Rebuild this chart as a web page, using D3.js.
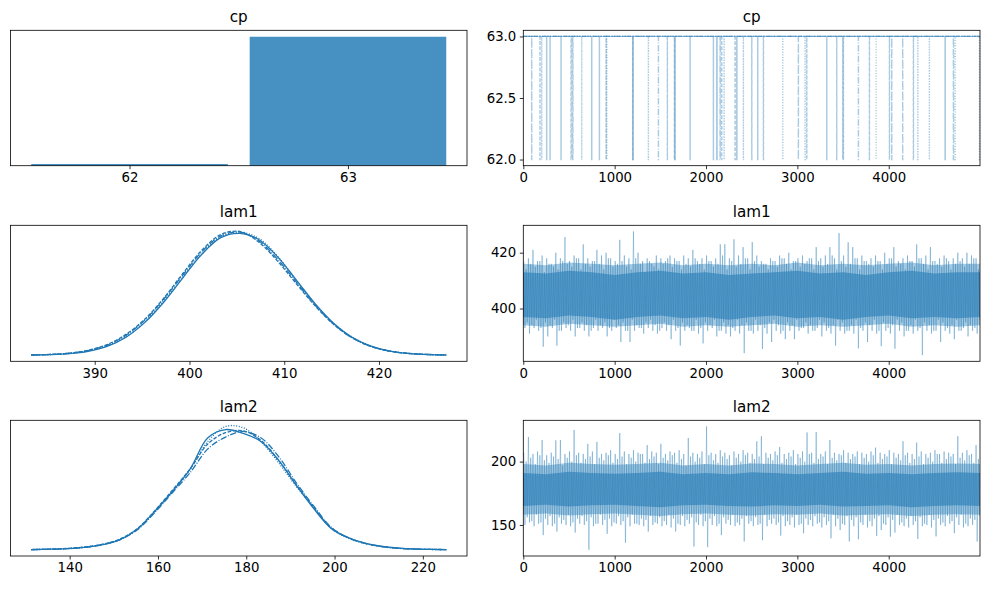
<!DOCTYPE html>
<html><head><meta charset="utf-8">
<script src="https://cdn.jsdelivr.net/npm/d3@7"></script>
<style>
body{margin:0;background:#fff}
svg{display:block}
text{font-family:"DejaVu Sans",sans-serif;fill:#000}
</style>
</head><body>
<svg id="chart" width="989" height="590"></svg>
<script>
// ---------------- DATA ----------------
const chainStyles = ["solid", "dashed", "dashdot", "dotted"];

// cp: posterior share of each value
const cpValues = [62, 63];
const cpProb = [0.013, 0.987];
// cp trace: draws (start, length) where each chain sits at 62 (otherwise 63)
const cpDropsChain0 = [[255,2],[292,2],[412,2],[748,2],[832,2],[1200,3],[1660,3],[1825,2],[2080,2],[2116,6],[2335,4],[2565,2],[3321,2],[4616,4]];
const cpDropsChain1 = [[182,2],[522,5],[905,3],[1197,2],[1576,2],[1653,3],[2171,2],[2317,3],[2627,3],[3102,2],[3496,3],[3788,2],[4007,2],[4269,3]];
const cpDropsChain2 = [[91,2],[540,4],[1478,2],[2153,4],[2500,2],[3010,2],[3430,2],[3667,2],[4032,2],[4152,2],[4707,4]];
const cpDropsChain3 = [[201,2],[639,2],[912,3],[1368,2],[2197,2],[2408,2],[2839,2],[3083,3],[3503,3],[3861,2],[4317,3],[4444,2],[4725,5],[4992,2]];
const cpTraceYTicks = [62.0, 62.5, 63.0];

// lam1 density (per chain) on a grid
const lam1Grid = [383.3,385.3,387.3,389.3,391.3,393.3,395.3,397.3,399.3,401.3,403.3,405.3,407.3,409.3,411.3,413.3,415.3,417.3,419.3,421.3,423.3,425.3,427.1];
const lam1Kde0 = [0.001,0.004,0.012,0.031,0.07,0.145,0.265,0.43,0.625,0.815,0.95,0.985,0.935,0.795,0.605,0.412,0.252,0.138,0.068,0.03,0.012,0.004,0.001];
const lam1Kde1 = [0.002,0.006,0.016,0.04,0.085,0.168,0.292,0.462,0.66,0.848,0.975,1.0,0.915,0.76,0.575,0.395,0.243,0.134,0.066,0.03,0.013,0.005,0.002];
const lam1Kde2 = [0.002,0.005,0.015,0.037,0.08,0.16,0.285,0.455,0.648,0.835,0.965,0.995,0.925,0.775,0.588,0.4,0.245,0.134,0.067,0.03,0.012,0.005,0.002];
const lam1Kde3 = [0.001,0.005,0.013,0.034,0.075,0.15,0.272,0.44,0.632,0.82,0.955,0.995,0.945,0.8,0.6,0.41,0.25,0.14,0.07,0.031,0.013,0.004,0.001];
const lam1KdeTicks = [390, 400, 410, 420];

// lam2 density (per chain) on a grid
const lam2Grid = [131.3,135.3,139.3,143.3,147.3,151.3,155.3,159.3,163.3,167.3,171.3,175.3,179.3,183.3,187.3,191.3,195.3,199.3,203.3,207.3,211.3,215.3,219.3,223.3,225.3];
const lam2Kde0 = [0.002,0.005,0.01,0.02,0.04,0.08,0.165,0.31,0.47,0.65,0.9,0.965,0.935,0.87,0.72,0.52,0.33,0.17,0.095,0.05,0.025,0.012,0.006,0.003,0.002];
const lam2Kde1 = [0.002,0.005,0.011,0.022,0.043,0.085,0.17,0.315,0.48,0.65,0.85,0.94,0.955,0.88,0.72,0.525,0.34,0.175,0.095,0.05,0.024,0.011,0.005,0.003,0.002];
const lam2Kde2 = [0.002,0.004,0.009,0.019,0.042,0.08,0.16,0.3,0.46,0.62,0.81,0.905,0.95,0.9,0.75,0.54,0.35,0.18,0.093,0.048,0.023,0.01,0.005,0.002,0.001];
const lam2Kde3 = [0.002,0.005,0.01,0.021,0.042,0.083,0.165,0.305,0.47,0.645,0.87,0.99,0.98,0.87,0.7,0.51,0.34,0.17,0.09,0.047,0.022,0.01,0.005,0.002,0.001];
const lam2KdeTicks = [140, 160, 180, 200, 220];

// trace: per block of 50 draws, highest / lowest sampled value in its first (A) and second (B) half
const blockSize = 50;
const lam1HiA = [417,418,421,417,419,418,416,420,418,425.6,417,419,418,423,418,417,421,419,420,418,417,424.6,419,418,427.6,420,417,418,416,419,418,417,419,418,417,419,418,421,417,418,419,417,418,423,423,418,424.8,419,422,418,423.8,419,417,416,418,417,419,418,420,417,418,419,417,418,422,418,419,422,418,427,419,423.7,422,418,419,417,418,419,417,420,418,422,417,418,419,417,423,418,419,422,417,418,419,417,418,420,418,420,419,418];
const lam1LoA = [393,391,393,392,386.3,390,393,386.7,392,393,392,390,393,392,390,393,392,393,390,392,393,388,392,388,392,393,391,393,392,391,393,392,389,392,386.7,392,393,392,391,387.5,392,393,390,392,391,390,392,391,384,392,391,392,385.5,391,388,392,391,389,392,389,392,393,391,392,393,390,392,391,386.7,392,391,392,391,385.7,392,388,392,391,386.5,392,391,385.6,392,390,392,391,392,383.3,392,391,392,388,392,391,389,392,393,390,392,391];
const lam1HiB = [414,416,415,417,413,416,415,414,417,416,415,418,414,416,415,417,416,414,418,415,416,417,415,414,418,416,413,417,415,414,416,418,415,417,414,416,415,418,416,414,417,415,416,419,414,417,415,416,418,414,417,415,416,414,417,415,418,416,414,417,415,416,418,414,417,415,416,419,414,417,415,416,418,414,417,416,415,417,414,416,418,415,416,414,417,415,418,416,414,417,416,415,418,414,416,417,415,416,418,414];
const lam1LoB = [395,394,396,393,395,394,396,392,395,394,396,393,395,394,392,396,394,395,393,396,394,395,392,396,394,393,395,396,394,392,395,394,396,393,395,394,392,396,393,395,394,396,392,395,394,393,396,394,395,392,396,394,393,395,396,394,392,395,394,396,393,395,394,392,396,395,393,394,396,395,392,394,396,393,395,394,396,392,395,393,394,396,395,392,394,396,393,395,394,392,396,395,393,394,396,392,395,394,393,396];
const lam2HiA = [207,219.4,206,208,217,205,207,216.8,217,206,208,225,207,206,214,208,215.5,206,207,209,206,222.5,208,206,209,207,206,213,208,207,214,206,208,207,209,206,218.6,207,206,208,227.7,207,206,209,207,205,208,206,209,207,206,216,220,207,206,208,211.5,206,207,209,206,208,223,207,223.3,206,208,217,207,206,209,207,206,208,207,206,208,211,207,206,209,207,206,216,207,206,215,208,206,207,209,206,208,207,206,220,207,209,206,213];
const lam2LoA = [150,152,149,151,142,150,149,144.8,151,150,149,144,151,150,130.4,149,151,150,143,149,151,150,136,149,151,150,149,144.8,150,151,149,150,148,144.8,150,149,151,133,150,149,132.5,150,149,142,151,150,149,150,137,151,149,150,138,149,151,150,141.6,149,150,148,150,143.5,150,149,151,148,150,139.5,149,146,150,137,149,138.7,150,148,149,141.4,146,150,140.8,144,150,149,148,150,139,149,150,148,141,150,149,151,143.5,150,148,149,150,137];
const lam2HiB = [200,203,198,205,201,199,204,202,197,203,200,205,199,202,204,198,203,201,205,199,202,204,198,203,200,206,199,202,204,198,203,201,205,199,202,197,204,200,203,198,205,201,199,204,202,197,203,200,205,199,202,204,198,203,201,205,199,202,204,198,203,200,206,199,202,204,198,203,201,205,199,202,204,198,203,200,205,199,202,204,198,203,201,205,199,202,204,198,203,200,206,199,202,204,198,203,201,205,199,202];
const lam2LoB = [156,153,158,152,155,157,151,156,154,158,152,155,157,153,156,151,158,154,155,152,157,153,156,158,151,155,154,157,152,156,153,158,155,151,157,154,156,152,158,153,155,157,151,156,154,158,152,155,157,153,156,151,158,154,155,152,157,153,156,158,151,155,154,157,152,156,153,158,155,151,157,154,156,152,158,153,155,157,151,156,154,158,152,155,157,153,156,151,158,154,155,152,157,153,156,158,151,155,154,157];
// trace: dense central band per block of 250 draws (inner and outer quantile bands)
const coreBlock = 250;
const lam1CoreHi = [413,412.5,413.5,413,412,413,413.5,412.5,413,412,412.5,413,413.5,412.5,413,412,413,413.5,412.5,413,413];
const lam1CoreLo = [397,396.5,397.5,397,396,397,397.5,396.5,397,396,397,397.5,396.5,397,396,397,397.5,396.5,397,396.5,397];
const lam1MidHi = [416,415.5,416.5,416,415.5,416,416.5,415.5,416,415.5,416,415.5,416.5,415.5,416,415.5,416,416.5,415.5,416,416];
const lam1MidLo = [394,393.5,394.5,394,393.5,394,394.5,393.5,394,393.5,394,394.5,393.5,394,393.5,394,394.5,393.5,394,393.5,394];
const lam2CoreHi = [191,190,192,191,190.5,191,192,190,191,190,191.5,191,190,191,192,190.5,191,190,191,191.5,191];
const lam2CoreLo = [165,166,164.5,165.5,166,165,164,165.5,166,165,164.5,165.5,165,166,164.5,165,165.5,164,165,165.5,165];
const lam2MidHi = [198,197,199,198,197.5,198,199,197,198,197,198.5,198,197,198,199,197.5,198,197,198,198.5,198];
const lam2MidLo = [158,159,157.5,158.5,159,158,157,158.5,159,158,157.5,158.5,158,159,157.5,158,158.5,157,158,158.5,158];

const nDraws = 5000;
const traceXTicks = [0, 1000, 2000, 3000, 4000];
const lam1TraceYTicks = [400, 420];
const lam2TraceYTicks = [150, 200];
const titles = ["cp", "lam1", "lam2"];

// ---------------- LAYOUT / STYLE ----------------
const C0 = "#1f77b4";
const leftX = [10.5, 467], rightX = [523.3, 980];
const rows = [[30.3, 165.7], [225.3, 361.3], [420.3, 556]];
const dash = {solid: null, dashed: "3.7,1.6", dashdot: "6.4,1.6,1,1.6", dotted: "1,1.65"};
const tickFont = "13.3px", titleFont = "15.2px";

const svg = d3.select("#chart");

function padDomain(lo, hi) { const m = (hi - lo) * 0.05; return [lo - m, hi + m]; }

function frame(xr, yr) {
  svg.append("rect").attr("x", xr[0]).attr("y", yr[0])
    .attr("width", xr[1] - xr[0]).attr("height", yr[1] - yr[0])
    .attr("fill", "none").attr("stroke", "#000").attr("stroke-width", 0.8);
}
function title(xr, yr, t) {
  svg.append("text").attr("x", (xr[0] + xr[1]) / 2).attr("y", yr[0] - 8)
    .attr("text-anchor", "middle").style("font-size", titleFont).text(t);
}
function styleAxis(g) {
  g.select(".domain").remove();
  g.selectAll(".tick line").attr("stroke", "#000").attr("stroke-width", 0.8);
  g.selectAll(".tick text").style("font-size", tickFont).attr("fill", "#000")
    .style("font-family", '"DejaVu Sans",sans-serif');
}
function xAxis(scale, yr, ticks, fmt) {
  const g = svg.append("g").attr("transform", `translate(0,${yr[1]})`)
    .call(d3.axisBottom(scale).tickValues(ticks).tickSize(3.5).tickPadding(3.5).tickFormat(fmt || d3.format("d")));
  styleAxis(g);
}
function yAxis(scale, xr, ticks, fmt) {
  const g = svg.append("g").attr("transform", `translate(${xr[0]},0)`)
    .call(d3.axisLeft(scale).tickValues(ticks).tickSize(3.5).tickPadding(3.5).tickFormat(fmt || d3.format("d")));
  styleAxis(g);
}

// ---------- Row 1 left: cp histogram ----------
(function () {
  const yr = rows[0];
  const x = d3.scaleLinear().domain(padDomain(cpValues[0] - 0.45, cpValues[cpValues.length - 1] + 0.45)).range(leftX);
  const y = d3.scaleLinear().domain([0, d3.max(cpProb) * 1.05]).range([yr[1], yr[0]]);
  svg.append("g").selectAll("rect").data(cpValues).join("rect")
    .attr("x", d => x(d - 0.45)).attr("width", d => x(d + 0.45) - x(d - 0.45))
    .attr("y", (d, i) => y(cpProb[i])).attr("height", (d, i) => y(0) - y(cpProb[i]))
    .attr("fill", C0).attr("fill-opacity", 0.82);
  xAxis(x, yr, cpValues);
  frame(leftX, yr);
  title(leftX, yr, titles[0]);
})();

// ---------- Row 1 right: cp trace ----------
(function () {
  const yr = rows[0];
  const x = d3.scaleLinear().domain([0, nDraws - 1]).range(rightX);
  const y = d3.scaleLinear().domain(padDomain(62, 63)).range([yr[1], yr[0]]);
  const line = d3.line().x(d => x(d[0])).y(d => y(d[1]));
  [cpDropsChain0, cpDropsChain1, cpDropsChain2, cpDropsChain3].forEach((drops, ci) => {
    const pts = [[0, 63]];
    drops.forEach(([s, len]) => { pts.push([s, 63], [s, 62], [s + len, 62], [s + len, 63]); });
    pts.push([nDraws - 1, 63]);
    svg.append("path").attr("d", line(pts)).attr("fill", "none")
      .attr("stroke", C0).attr("stroke-opacity", 0.38).attr("stroke-width", 1.3)
      .attr("stroke-dasharray", dash[chainStyles[ci]]);
  });
  xAxis(x, yr, traceXTicks);
  yAxis(y, rightX, cpTraceYTicks, d3.format(".1f"));
  frame(rightX, yr);
  title(rightX, yr, titles[0]);
})();

// ---------- KDE panels ----------
function kdePanel(yr, grid, kdes, ticks, t) {
  const x = d3.scaleLinear().domain(padDomain(d3.min(grid), d3.max(grid))).range(leftX);
  const M = d3.max(kdes.flat());
  const y = d3.scaleLinear().domain([-0.05 * M, 1.05 * M]).range([yr[1], yr[0]]);
  const line = d3.line().x((d, i) => x(grid[i])).y(d => y(d)).curve(d3.curveCatmullRom);
  kdes.forEach((k, ci) => {
    svg.append("path").attr("d", line(k)).attr("fill", "none")
      .attr("stroke", C0).attr("stroke-width", 1.3)
      .attr("stroke-dasharray", dash[chainStyles[ci]]);
  });
  xAxis(x, yr, ticks);
  frame(leftX, yr);
  title(leftX, yr, t);
}
kdePanel(rows[1], lam1Grid, [lam1Kde0, lam1Kde1, lam1Kde2, lam1Kde3], lam1KdeTicks, titles[1]);
kdePanel(rows[2], lam2Grid, [lam2Kde0, lam2Kde1, lam2Kde2, lam2Kde3], lam2KdeTicks, titles[2]);

// ---------- Trace panels ----------
function tracePanel(yr, hiA, loA, hiB, loB, midHi, midLo, coreHi, coreLo, yticks, t) {
  const x = d3.scaleLinear().domain([0, nDraws - 1]).range(rightX);
  const y = d3.scaleLinear().domain(padDomain(d3.min(loA.concat(loB)), d3.max(hiA.concat(hiB)))).range([yr[1], yr[0]]);
  const kx = i => Math.min(i * coreBlock, nDraws - 1);
  const band = (top, bot) => d3.area().x((d, i) => x(kx(i))).y0((d, i) => y(bot[i])).y1((d, i) => y(top[i]));
  svg.append("path").attr("d", band(midHi, midLo)(midHi)).attr("fill", C0).attr("fill-opacity", 0.4);
  svg.append("path").attr("d", band(coreHi, coreLo)(coreHi)).attr("fill", C0).attr("fill-opacity", 0.55);
  const pts = [];
  hiA.forEach((h, k) => {
    const b = k * blockSize;
    pts.push([b + 6, h], [b + 18, loA[k]], [b + 31, hiB[k]], [b + 43, loB[k]]);
  });
  svg.append("path").attr("d", d3.line().x(d => x(d[0])).y(d => y(d[1]))(pts))
    .attr("fill", "none").attr("stroke", C0).attr("stroke-opacity", 0.35).attr("stroke-width", 1);
  xAxis(x, yr, traceXTicks);
  yAxis(y, rightX, yticks);
  frame(rightX, yr);
  title(rightX, yr, t);
}
tracePanel(rows[1], lam1HiA, lam1LoA, lam1HiB, lam1LoB, lam1MidHi, lam1MidLo, lam1CoreHi, lam1CoreLo, lam1TraceYTicks, titles[1]);
tracePanel(rows[2], lam2HiA, lam2LoA, lam2HiB, lam2LoB, lam2MidHi, lam2MidLo, lam2CoreHi, lam2CoreLo, lam2TraceYTicks, titles[2]);
</script>
</body></html>
